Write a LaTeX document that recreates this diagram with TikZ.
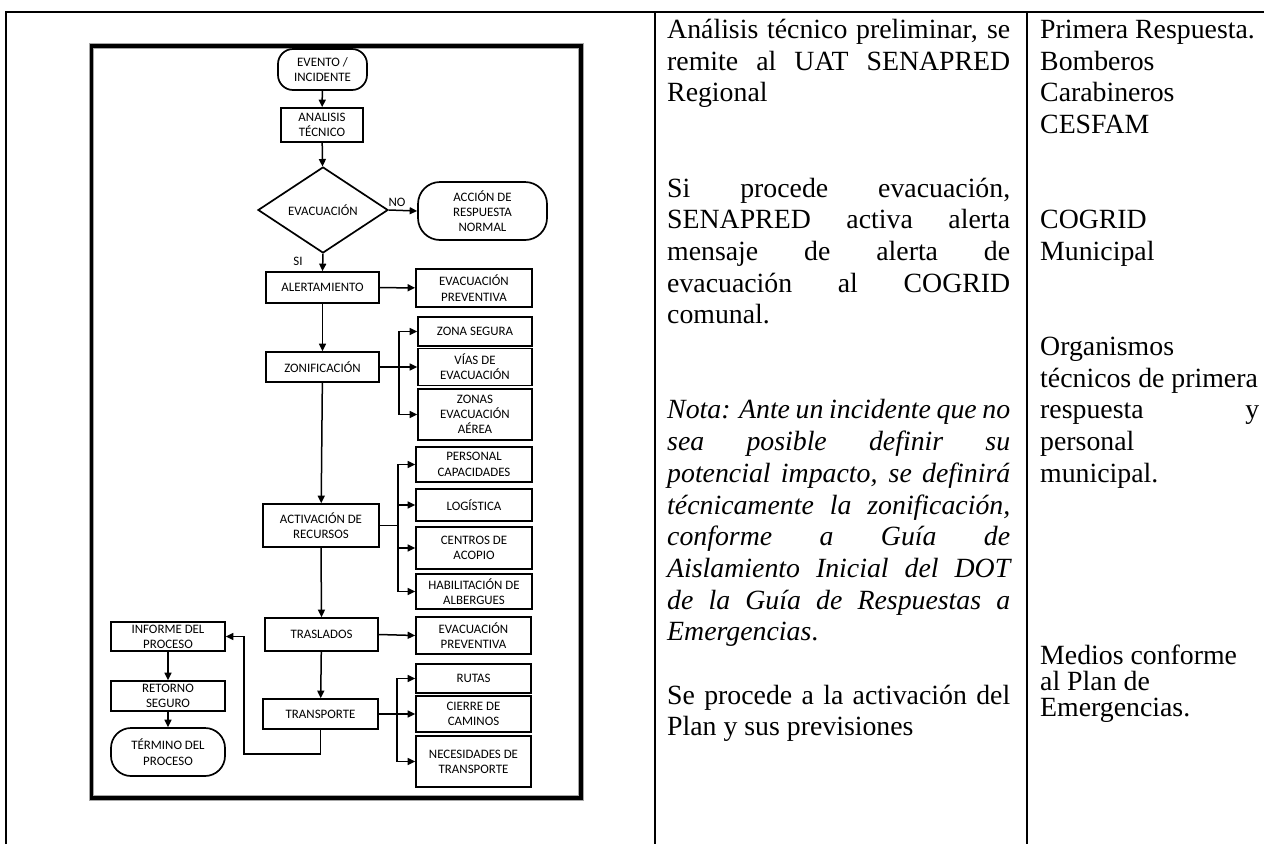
\documentclass[tikz,border=0pt]{standalone}
\usepackage{fontspec}
\setmainfont{Liberation Serif}
\newfontfamily\flowfont{Carlito}
\usetikzlibrary{arrows.meta,shapes.geometric}
\newcommand\fcfont{\flowfont\fontsize{12.9}{15.3}\selectfont}
\newcommand\txfont{\fontsize{27.8}{32}\selectfont}
\newcommand\jL[1]{\makebox[343pt][s]{#1}}
\newcommand\jR[1]{\makebox[219pt][s]{#1}}
\begin{document}
\begin{tikzpicture}[x=1pt,y=-1pt,
  fbox/.style={draw, line width=1.7pt, inner sep=0pt, align=center, font=\fcfont},
  term/.style={fbox, rounded corners=#1},
  arr/.style={line width=1.5pt, -{Triangle[length=7.5pt,width=7pt]}},
  ln/.style={line width=1.5pt},
  lbl/.style={font=\fcfont, inner sep=0pt},
  tl/.style={anchor=base west, inner sep=0pt, font=\txfont},
  tight/.style={tl, text height=19pt, text depth=#1},
  rule/.style={line width=2pt}]
\useasboundingbox (0,0) rectangle (1264,844);
% table lines
\draw[rule] (6,844) -- (6,12) -- (1264,12);
\draw[rule] (655,12) -- (655,844);
\draw[rule] (1027,12) -- (1027,844);
% flowchart frame
\node[draw=black!35, line width=5.5pt, minimum width=489.5pt, minimum height=752pt, inner sep=0pt] (framebg) at (336.25,422) {};
\node[draw, line width=3.4pt, minimum width=489.5pt, minimum height=752pt, inner sep=0pt] (frame) at (336.25,422) {};
% flowchart nodes
\node[term=15pt, minimum width=89pt, minimum height=41pt] (ev) at (322.5,69.5) {EVENTO /\\INCIDENTE};
\node[fbox, minimum width=82pt, minimum height=34pt] (an) at (322,125) {ANALISIS\\TÉCNICO};
\node[diamond, aspect=1.5, draw, line width=1.7pt, inner sep=0pt, minimum width=130pt, minimum height=86pt, font=\fcfont] (dia) at (323,210) {EVACUACIÓN};
\node[term=22pt, minimum width=129pt, minimum height=58pt] (acc) at (482.5,211) {ACCIÓN DE\\RESPUESTA\\NORMAL};
\node[fbox, minimum width=113pt, minimum height=31pt] (al) at (322.5,287.5) {ALERTAMIENTO};
\node[fbox, minimum width=116pt, minimum height=38pt] (ep1) at (474,288) {EVACUACIÓN\\PREVENTIVA};
\node[fbox, minimum width=113pt, minimum height=30pt] (zo) at (322.5,367) {ZONIFICACIÓN};
\node[fbox, minimum width=114pt, minimum height=29pt] (zs) at (475,331.5) {ZONA SEGURA};
\node[fbox, minimum width=114pt, minimum height=37pt] (vi) at (475,367) {VÍAS DE\\EVACUACIÓN};
\node[fbox, minimum width=114pt, minimum height=51pt] (za) at (475,414.5) {ZONAS\\EVACUACIÓN\\AÉREA};
\node[fbox, minimum width=116pt, minimum height=43pt] (ac) at (321,525.5) {ACTIVACIÓN DE\\RECURSOS};
\node[fbox, minimum width=116pt, minimum height=35pt] (pc) at (474,464.5) {PERSONAL\\CAPACIDADES};
\node[fbox, minimum width=116pt, minimum height=32pt] (lo) at (474,505) {LOGÍSTICA};
\node[fbox, minimum width=116pt, minimum height=42pt] (ce) at (474,548) {CENTROS DE\\ACOPIO};
\node[fbox, minimum width=116pt, minimum height=35pt] (ha) at (474,591.5) {HABILITACIÓN DE\\ALBERGUES};
\node[fbox, minimum width=113pt, minimum height=33pt] (tr) at (321.5,634.5) {TRASLADOS};
\node[fbox, minimum width=115pt, minimum height=37pt] (ep2) at (473.5,635.5) {EVACUACIÓN\\PREVENTIVA};
\node[fbox, minimum width=115pt, minimum height=30pt] (tp) at (320.5,714) {TRANSPORTE};
\node[fbox, minimum width=115pt, minimum height=29pt] (ru) at (473.5,678.5) {RUTAS};
\node[fbox, minimum width=115pt, minimum height=36pt] (ci) at (473.5,714) {CIERRE DE\\CAMINOS};
\node[fbox, minimum width=115pt, minimum height=51pt] (ne) at (473.5,761.5) {NECESIDADES DE\\TRANSPORTE};
\node[fbox, minimum width=114pt, minimum height=29pt] (inf) at (168,636.5) {INFORME DEL\\PROCESO};
\node[fbox, minimum width=114pt, minimum height=30pt] (ret) at (168,696) {RETORNO\\SEGURO};
\node[term=20pt, minimum width=114pt, minimum height=48pt] (ter) at (168,752) {TÉRMINO DEL\\PROCESO};
\node[lbl] (no) at (397,202) {NO};
\node[lbl] (si) at (298,261) {SI};
% branch points
\coordinate (b1) at (399,367);
\coordinate (b2) at (398,525.5);
\coordinate (b3) at (397,714);
\coordinate (lp) at (244,754);
% connectors
\draw[arr] (ev) -- (an);
\draw[arr] (an) -- (dia);
\draw[arr] (dia.east) -- (acc.west);
\draw[arr] (dia.south) -- (al.north);
\draw[arr] (al) -- (ep1);
\draw[arr] (al) -- (zo);
\draw[arr] (zo.east) -- (vi.west);
\draw[arr] (b1) |- (zs.west);
\draw[arr] (b1) |- (za.west);
\draw[arr] (zo) -- (ac);
\draw[ln] (ac.east) -- (b2);
\draw[arr] (b2) |- (pc.west);
\draw[arr] (b2) |- (lo.west);
\draw[arr] (b2) |- (ce.west);
\draw[arr] (b2) |- (ha.west);
\draw[arr] (ac.south) -- (tr.north);
\draw[arr] (tr.east) -- (ep2.west);
\draw[arr] (tr) -- (tp);
\draw[arr] (tp.east) -- (ci.west);
\draw[arr] (b3) |- (ru.west);
\draw[arr] (b3) |- (ne.west);
\draw[arr] (tp.south) |- (lp) |- (inf.east);
\draw[arr] (inf) -- (ret);
\draw[arr] (ret) -- (ter);
% left text column
\node[tl] (L1) at (667,38.5) {\jL{Análisis técnico preliminar, se}};
\node[tl] (L2) at (667,70.2) {\jL{remite al UAT SENAPRED}};
\node[tl] (L3) at (667,101.9) {Regional};
\node[tl] (L6) at (667,197) {\jL{Si procede evacuación,}};
\node[tl] (L7) at (667,228.7) {\jL{SENAPRED activa alerta}};
\node[tl] (L8) at (667,260.4) {\jL{mensaje de alerta de}};
\node[tl] (L9) at (667,292.1) {\jL{evacuación al COGRID}};
\node[tl] (L10) at (667,323.8) {comunal.};
\node[tl] (L13) at (667,418.9) {\jL{\itshape Nota: Ante un incidente que no}};
\node[tl] (L14) at (667,450.6) {\jL{\itshape sea posible definir su}};
\node[tl] (L15) at (667,482.3) {\jL{\itshape potencial impacto, se definirá}};
\node[tl] (L16) at (667,514) {\jL{\itshape técnicamente la zonificación,}};
\node[tl] (L17) at (667,545.7) {\jL{\itshape conforme a Guía de}};
\node[tl] (L18) at (667,577.4) {\jL{\itshape Aislamiento Inicial del DOT}};
\node[tl] (L19) at (667,609.1) {\jL{\itshape de la Guía de Respuestas a}};
\node[tl] (L20) at (667,640.8) {\textit{Emergencias}.};
\node[tl] (L22) at (667,704.2) {\jL{Se procede a la activación del}};
\node[tl] (L23) at (667,735.9) {Plan y sus previsiones};
% right text column
\node[tl] (R1) at (1040,38.5) {Primera Respuesta.};
\node[tl] (R2) at (1040,70.2) {Bomberos};
\node[tl] (R3) at (1040,101.9) {Carabineros};
\node[tl] (R4) at (1040,133.6) {CESFAM};
\node[tl] (R7) at (1040,228.7) {COGRID};
\node[tl] (R8) at (1040,260.4) {Municipal};
\node[tl] (R11) at (1040,355.5) {Organismos};
\node[tl] (R12) at (1040,387.2) {técnicos de primera};
\node[tl] (R13) at (1040,418.9) {\jR{respuesta y}};
\node[tl] (R14) at (1040,450.6) {personal};
\node[tl] (R15) at (1040,482.3) {municipal.};
\node[tight=0pt] (R16) at (1040,664) {Medios conforme};
\node[tight=0pt] (R17) at (1040,690) {al Plan de};
\node[tight=6pt] (R18) at (1040,716) {Emergencias.};
\end{tikzpicture}
\end{document}
